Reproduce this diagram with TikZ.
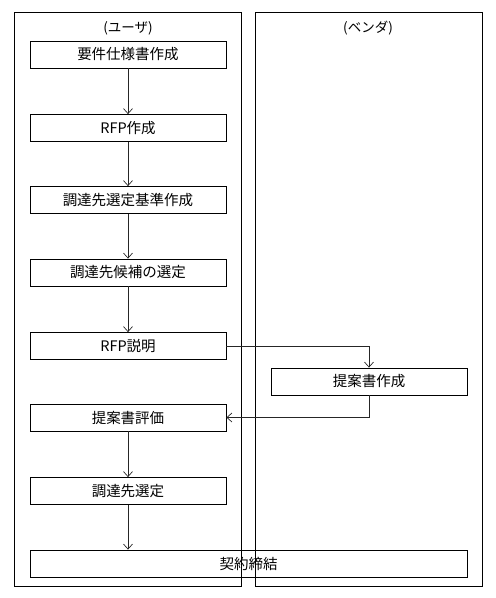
\documentclass[tikz,border=0pt]{standalone}
\usepackage{fontspec}
\newfontfamily\cjk{Noto Sans CJK JP}
\usetikzlibrary{arrows.meta}
\begin{document}
\begin{tikzpicture}[x=1pt,y=-1pt,
  lane/.style={draw=black,line width=0.8pt,minimum width=227pt,minimum height=574pt,inner sep=0pt},
  stepbox/.style={draw=black,line width=0.8pt,minimum width=196pt,minimum height=27pt,inner sep=0pt,font=\cjk\fontsize{14.5}{16}\selectfont},
  lbl/.style={font=\cjk\fontsize{13.5}{15}\selectfont,inner sep=0pt},
  flow/.style={draw=black!85,line width=0.7pt,-{Straight Barb[length=5pt,width=9pt]}}]
\useasboundingbox (0,0) rectangle (496,598);
\node[lane] (userlane) at (127.5,299) {};
\node[lane] (vendlane) at (368.5,299.5) {};
\node[lbl] (ulabel) at (128,28) {(ユーザ)};
\node[lbl] (vlabel) at (368,28) {(ベンダ)};
\node[stepbox] (b1) at (128,54.5) {要件仕様書作成};
\node[stepbox] (b2) at (128,128) {RFP作成};
\node[stepbox] (b3) at (128,200) {調達先選定基準作成};
\node[stepbox] (b4) at (128,272.5) {調達先候補の選定};
\node[stepbox] (b5) at (128,346) {RFP説明};
\node[stepbox] (p) at (369,381.5) {提案書作成};
\node[stepbox] (b6) at (128,417.5) {提案書評価};
\node[stepbox] (b7) at (128,491) {調達先選定};
\node[stepbox,minimum width=437pt] (b8) at (248.5,563.5) {契約締結};
\draw[flow] (b1) -- (b2);
\draw[flow] (b2) -- (b3);
\draw[flow] (b3) -- (b4);
\draw[flow] (b4) -- (b5);
\draw[flow] (b5.east) -| (p.north);
\draw[flow] (p.south) |- (b6.east);
\draw[flow] (b6) -- (b7);
\draw[flow] (b7.south) -- (b7.south |- b8.north);
\end{tikzpicture}
\end{document}
